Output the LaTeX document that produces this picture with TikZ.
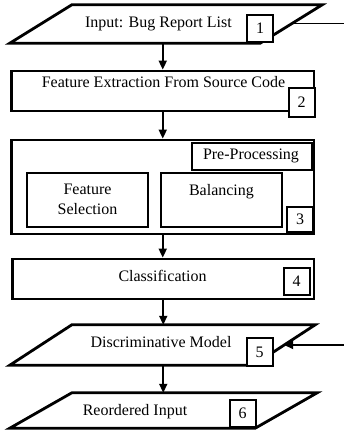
\documentclass[tikz,border=0pt]{standalone}
\usepackage{fontspec}
\setmainfont{Liberation Serif}
\usetikzlibrary{arrows.meta}

\tikzset{
  iobox/.style={rectangle, inner sep=0pt},
  ioline/.style={draw, line width=2.8pt},
  stagebox/.style={rectangle, draw, line width=2.8pt, inner sep=0pt},
  subbox/.style={rectangle, draw, line width=2pt, inner sep=0pt, minimum width=121pt, minimum height=54pt},
  numbox/.style={rectangle, draw, fill=white, line width=2pt, inner sep=0pt, minimum width=26pt, minimum height=27pt},
  txt/.style={anchor=base, inner sep=0pt},
  flow/.style={-{Triangle[length=9pt,width=8pt]}, line width=1.8pt},
}

\begin{document}
\begin{tikzpicture}[x=1pt, y=-1pt, font=\fontsize{16}{19}\selectfont]
    \useasboundingbox (0,0) rectangle (344,434);

    % Step 1: input list
    \node[iobox, minimum width=250pt, minimum height=38pt] (input) at (166,24) {};
    \draw[ioline] ([xshift=31pt]input.north west) -- ([xshift=31pt]input.north east)
        -- ([xshift=-31pt]input.south east) -- ([xshift=-31pt]input.south west) -- cycle;
    \node[txt] (inputText) at (158.5,27.5) {Input: Bug Report List};
    \node[numbox] (n1) at (260,28.5) {1};

    % Step 2: feature extraction
    \node[stagebox, minimum width=302.5pt, minimum height=40pt] (fe) at (162.75,91) {};
    \node[txt] (feText) at (163.5,87) {Feature Extraction From Source Code};
    \node[numbox, minimum height=29pt] (n2) at (301.5,102.5) {2};

    % Step 3: pre-processing
    \node[stagebox, minimum width=302.5pt, minimum height=94pt] (pre) at (162.75,187) {};
    \node[stagebox, minimum width=120pt, minimum height=27pt] (pp) at (252,156.5) {};
    \node[txt] (ppText) at (251,159.5) {Pre-Processing};
    \node[subbox] (fs) at (87.5,200) {};
    \node[txt] (fsText1) at (87.5,194.5) {Feature};
    \node[txt] (fsText2) at (87.5,214.5) {Selection};
    \node[subbox] (bal) at (221.5,200) {};
    \node[txt] (balText) at (221.5,195) {Balancing};
    \node[numbox, minimum height=25pt] (n3) at (300,219.5) {3};

    % Step 4: classification
    \node[stagebox, minimum width=301.5pt, minimum height=40pt] (cls) at (163.25,279) {};
    \node[txt] (clsText) at (162.5,281) {Classification};
    \node[numbox] (n4) at (296.5,281.5) {4};

    % Step 5: model
    \node[iobox, minimum width=243pt, minimum height=40pt] (model) at (162.5,345) {};
    \draw[ioline] ([xshift=31pt]model.north west) -- ([xshift=31pt]model.north east)
        -- ([xshift=-31pt]model.south east) -- ([xshift=-31pt]model.south west) -- cycle;
    \node[txt] (modelText) at (161,347.5) {Discriminative Model};
    \node[numbox, minimum height=28pt] (n5) at (259.5,352) {5};

    % Step 6: output
    \node[iobox, minimum width=245pt, minimum height=35pt] (out) at (163.5,410.5) {};
    \draw[ioline] ([xshift=31pt]out.north west) -- ([xshift=31pt]out.north east)
        -- ([xshift=-31pt]out.south east) -- ([xshift=-31pt]out.south west) -- cycle;
    \node[txt] (outText) at (135,415) {Reordered Input};
    \node[numbox] (n6) at (242.5,413.5) {6};

    % flow
    \draw[flow] (fe.north |- input.south) -- (fe.north);
    \draw[flow] (fe.south) -- (pre.north);
    \draw[flow] (pre.south) -- (pre.south |- cls.north);
    \draw[flow] (cls.south) -- (cls.south |- model.north);
    \draw[flow] (cls.south |- model.south) -- (cls.south |- out.north);

    % side links
    \coordinate (outTop) at (344,23.5);
    \coordinate (inModel) at (344,345);
    \draw[line width=1.8pt] (input.east |- outTop) -- (outTop);
    \draw[flow] (inModel) -- (model.east);
\end{tikzpicture}
\end{document}
